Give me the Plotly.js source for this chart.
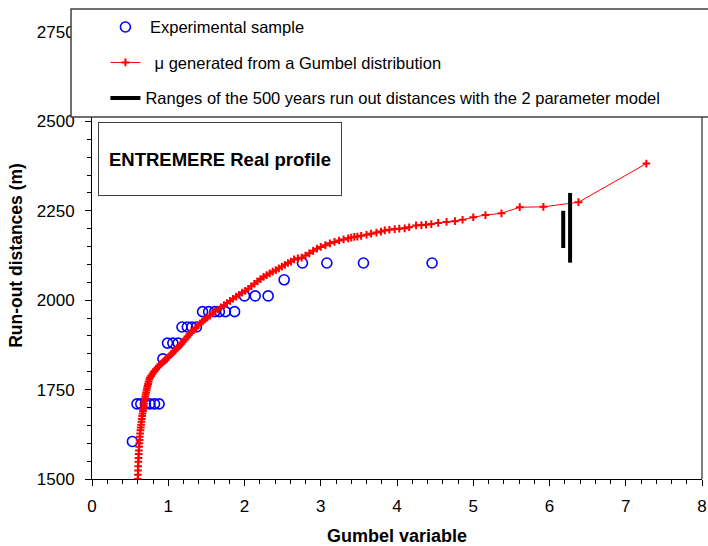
<!DOCTYPE html>
<html>
<head>
<meta charset="utf-8">
<script src="https://cdn.plot.ly/plotly-3.0.1.min.js"></script>
<style>html,body{margin:0;padding:0;background:#fff;}</style>
</head>
<body>
<div id="chart" style="width:708px;height:546px;"></div>
<script>
// Experimental sample (Gumbel variable, run-out distance m)
const expX = [0.53, 0.59, 0.64, 0.70, 0.76, 0.82, 0.88, 0.93, 0.99, 1.06, 1.13, 1.18, 1.25, 1.31, 1.37,
  1.45, 1.53, 1.61, 1.67, 1.75, 1.87, 2.00, 2.14, 2.31, 2.52, 2.76, 3.08, 3.56, 4.46];
const expY = [1605, 1710, 1710, 1710, 1710, 1710, 1710, 1836, 1880, 1880, 1880, 1925, 1925, 1925, 1925,
  1968, 1968, 1968, 1968, 1968, 1968, 2012, 2012, 2012, 2057, 2104, 2104, 2104, 2104];

// mu generated from a Gumbel distribution
const gumbelX = [
  0.600,0.602,0.604,0.606,0.608,0.610,0.612,0.615,0.618,0.621,0.624,0.627,0.631,0.635,0.639,0.643,0.648,0.653,0.658,0.663,0.668,0.673,0.678,0.683,0.688,0.693,0.698,0.704,0.710,0.716,0.722,0.728,0.735,0.742,0.750,
  0.760,0.775,0.790,0.805,0.820,0.840,0.860,0.880,0.900,0.925,0.950,0.975,1.000,1.025,1.050,1.075,1.100,1.125,1.150,1.175,1.200,1.225,1.250,1.275,1.300,1.330,1.360,1.390,1.420,1.450,1.480,1.510,1.545,1.580,1.615,1.650,1.690,1.730,1.770,1.810,1.850,1.890,1.930,1.970,
  2.010,2.050,2.090,2.130,2.170,2.210,2.250,2.290,2.330,2.370,2.410,2.450,2.490,2.530,2.570,2.610,2.650,2.700,2.750,2.800,2.850,2.900,2.950,3.000,3.060,3.120,3.180,3.240,3.300,3.360,
  3.40,3.44,3.48,3.53,3.60,3.66,3.73,3.79,3.84,3.90,3.97,4.03,4.10,4.16,4.25,4.32,4.38,4.45,4.54,4.65,4.76,4.86,5.00,5.16,
  5.37,5.61,5.92,6.38,7.27];
const gumbelY = [
  1500,1512,1524,1536,1548,1559,1570,1580,1590,1600,1609,1618,1627,1636,1644,1652,1660,1668,1676,1683,1690,1697,1704,1711,1718,1724,1730,1736,1742,1748,1754,1760,1766,1772,1778,
  1783,1788,1793,1798,1802,1807,1812,1817,1821,1826,1831,1836,1841,1846,1851,1857,1862,1867,1873,1879,1885,1891,1898,1904,1910,1916,1922,1929,1935,1941,1946,1951,1957,1963,1969,1974,1980,1986,1992,1998,2004,2010,2015,2021,
  2026,2032,2039,2046,2053,2059,2065,2070,2075,2080,2084,2089,2094,2099,2104,2108,2114,2117,2119,2125,2131,2138,2144,2149,2154,2159,2163,2167,2170,2173,
  2175,2177,2178,2180,2183,2186,2189,2192,2195,2197,2199,2200,2201,2204,2209,2210,2211,2213,2216,2219,2221,2225,2232,2238,
  2243,2260,2261,2274,2382];

// Ranges of the 500 years run out distances (2 parameter model)
const rangeX = [6.18, 6.27];
const rangeMin = [2146, 2105];
const rangeMax = [2250, 2300];

// Axis ticks
const xTicks = [0, 1, 2, 3, 4, 5, 6, 7, 8];
const yTicks = [1500, 1750, 2000, 2250, 2500, 2750];

const FONT = 'Liberation Sans, Arial, sans-serif';

const rx = [], ry = [];
for (let i = 0; i < rangeX.length; i++) {
  rx.push(rangeX[i], rangeX[i], null);
  ry.push(rangeMin[i], rangeMax[i], null);
}

const traces = [
  {
    type: 'scatter', mode: 'markers', x: expX, y: expY,
    name: '\u00A0Experimental sample', legendgroup: 'a',
    marker: {symbol: 'circle-open', size: 10, color: '#0000FF', line: {width: 1.6, color: '#0000FF'}}
  },
  {
    type: 'scatter', mode: 'lines+markers', x: gumbelX, y: gumbelY,
    name: '\u00A0\u00A0\u03BC generated from a Gumbel distribution', legendgroup: 'b',
    line: {color: '#FF0000', width: 1},
    marker: {symbol: 'cross-thin', size: 5.5, color: '#FF0000', line: {width: 2, color: '#FF0000'}}
  },
  {
    type: 'scatter', mode: 'lines', x: rx, y: ry, connectgaps: false,
    name: 'Ranges of the 500 years run out distances with the 2 parameter model', legendgroup: 'c',
    line: {color: '#000000', width: 4}
  }
];

const layout = {
  width: 708, height: 546,
  margin: {l: 92, r: 6, t: 32, b: 67, pad: 0},
  paper_bgcolor: '#ffffff', plot_bgcolor: '#ffffff',
  font: {family: FONT, color: '#000000', size: 17},
  showlegend: true,
  legend: {
    x: 0.022, y: 1.0497, xanchor: 'left', yanchor: 'top',
    bgcolor: 'rgba(0,0,0,0)', borderwidth: 0,
    font: {family: FONT, size: 16.5, color: '#000000'},
    traceorder: 'grouped', tracegroupgap: 11
  },
  xaxis: {
    range: [0, 8], tickvals: xTicks, ticktext: xTicks.map(String),
    ticks: 'outside', ticklen: 6, tickwidth: 1, tickcolor: '#000',
    showline: true, linecolor: '#000', linewidth: 1,
    showgrid: false, zeroline: false,
    minor: {dtick: 0.2, tick0: 0, ticks: 'outside', ticklen: 4, tickcolor: '#000', showgrid: false},
    tickfont: {family: FONT, size: 17},
    ticklabelstandoff: 6,
    title: {text: '<b>Gumbel variable</b>', font: {family: FONT, size: 18}, standoff: 14}
  },
  yaxis: {
    range: [1500, 2750], tickvals: yTicks, ticktext: yTicks.map(String),
    ticks: 'outside', ticklen: 6, tickwidth: 1, tickcolor: '#000',
    showline: true, linecolor: '#000', linewidth: 1,
    showgrid: false, zeroline: false,
    minor: {dtick: 50, tick0: 1500, ticks: 'outside', ticklen: 4, tickcolor: '#000', showgrid: false},
    tickfont: {family: FONT, size: 17},
    ticklabelstandoff: 7,
    title: {text: '<b>Run-out distances (m)</b>', font: {family: FONT, size: 17.5}, standoff: 9}
  },
  shapes: [
    {type: 'line', xref: 'paper', yref: 'paper', x0: 1, x1: 1, y0: 0, y1: 1,
     line: {color: '#808080', width: 2}, layer: 'above'},
    {type: 'rect', xref: 'paper', yref: 'paper',
     x0: -0.0344, x1: 1.06, y0: 0.8098, y1: 1.0515,
     line: {color: '#404040', width: 1.5}, fillcolor: '#ffffff', layer: 'above'}
  ],
  annotations: [
    {xref: 'paper', yref: 'paper', x: 0.2098, y: 0.716, xanchor: 'center', yanchor: 'middle',
     text: '<b>ENTREMERE Real profile</b>', showarrow: false,
     width: 242, height: 72, align: 'center', valign: 'middle',
     font: {family: FONT, size: 18.5, color: '#000'},
     bgcolor: '#ffffff', bordercolor: '#404040', borderwidth: 1, borderpad: 0}
  ]
};

Plotly.newPlot('chart', traces, layout, {displayModeBar: false, staticPlot: true});
</script>
</body>
</html>
